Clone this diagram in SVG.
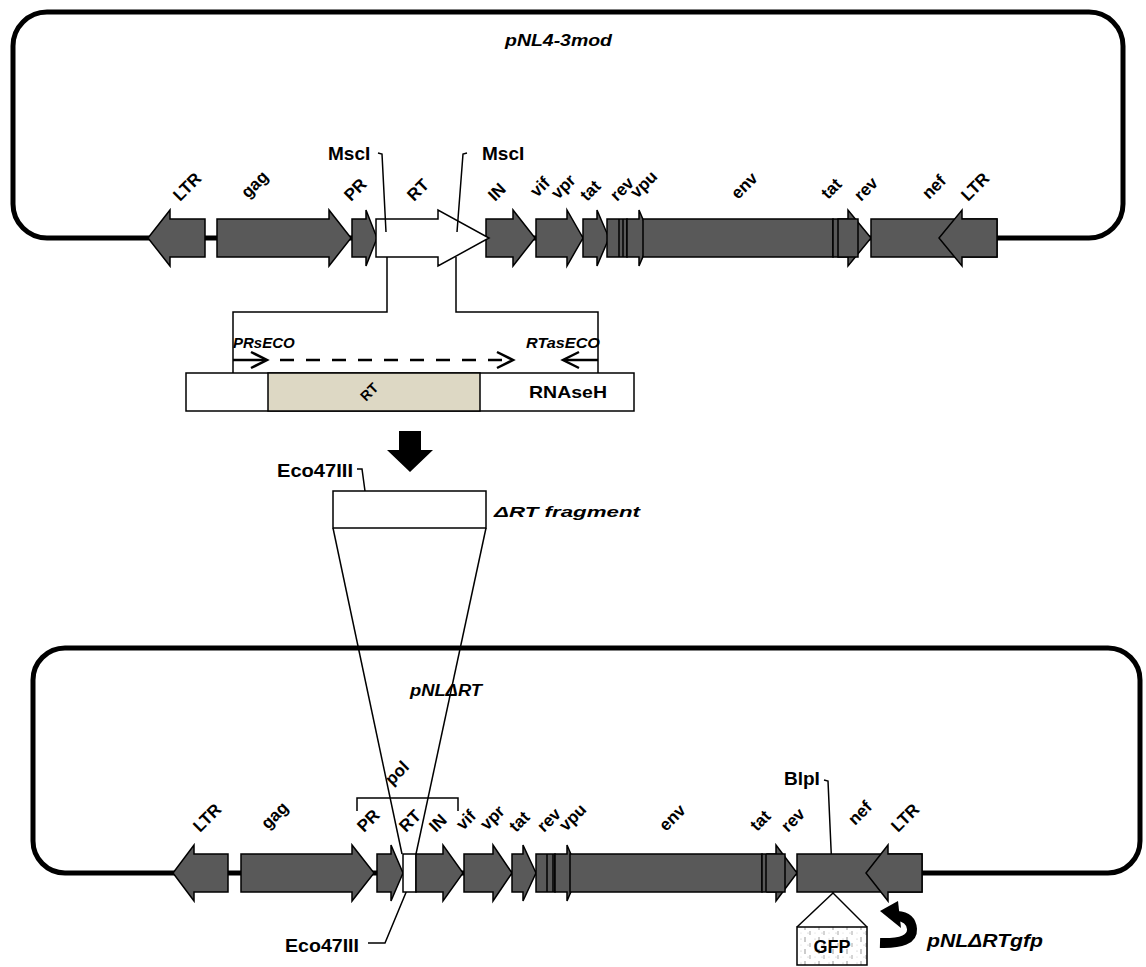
<svg xmlns="http://www.w3.org/2000/svg" width="1146" height="967" viewBox="0 0 1146 967">
<defs>
<style>
.bb{fill:none;stroke:#000;stroke-width:5}
.g{fill:#595959;stroke:#000;stroke-width:1.5;stroke-linejoin:miter}
.w{fill:#fff;stroke:#000;stroke-width:1.5}
.ln{fill:none;stroke:#000;stroke-width:1.5}
.pr{fill:none;stroke:#000;stroke-width:2.5}
.gl{font-family:"Liberation Sans",Arial,sans-serif;font-weight:bold;font-size:17px;fill:#000}
.lb{font-family:"Liberation Sans",Arial,sans-serif;font-weight:bold;font-size:19px;fill:#000}
.it{font-family:"Liberation Sans",Arial,sans-serif;font-weight:bold;font-style:italic;fill:#000}
</style>
<pattern id="gfpPat" width="14" height="12" patternUnits="userSpaceOnUse">
<rect width="14" height="12" fill="#fff"/>
<circle cx="3" cy="3" r="0.6" fill="#bbb"/>
<circle cx="10" cy="9" r="0.6" fill="#bbb"/>
<circle cx="3" cy="9" r="0.5" fill="#ccc"/>
<line x1="7" y1="1" x2="7" y2="6" stroke="#999" stroke-width="1"/>
<line x1="12" y1="7" x2="12" y2="11" stroke="#aaa" stroke-width="1"/>
</pattern>
</defs>

<g id="plasmid-top">
<rect class="bb" x="13" y="12" width="1110" height="226" rx="34"/>
<text class="it" x="505" y="46" font-size="16" textLength="107" lengthAdjust="spacingAndGlyphs">pNL4-3mod</text>
</g>

<g id="genes-top">
<polygon class="g" points="205,219 170,219 170,210 148,238 170,266 170,257 205,257"/>
<polygon class="g" points="217,219 329,219 329,210 351,238 329,266 329,257 217,257"/>
<polygon class="g" points="352,219 366,219 366,210 377,238 366,266 366,257 352,257"/>
<polygon class="g" points="486,219 513,219 513,210 535,238 513,266 513,257 486,257"/>
<polygon class="w" points="376,219 438,219 438,210 489,238 438,266 438,257 376,257"/>
<polygon class="g" points="536,219 567,219 567,210 583,238 567,266 567,257 536,257"/>
<polygon class="g" points="583,219 597,219 597,210 609,238 597,266 597,257 583,257"/>
<rect class="g" x="607" y="219" width="20" height="38"/>
<line class="ln" x1="619" y1="219" x2="619" y2="257"/>
<line class="ln" x1="623" y1="219" x2="623" y2="257"/>
<polygon class="g" points="627,219 639,219 639,210 651,238 639,266 639,257 627,257"/>
<rect class="g" x="643" y="219" width="190" height="38"/>
<polygon class="g" points="838,219 848,219 848,210 871,238 848,266 848,257 838,257"/>
<rect class="g" x="833" y="219" width="25" height="38"/>
<line class="ln" x1="838" y1="219" x2="838" y2="257"/>
<rect class="g" x="871" y="219" width="126" height="38"/>
<polygon class="g" points="997,219 962,219 962,210 939,238 962,266 962,257 997,257"/>
</g>

<g id="labels-top">
<text class="gl" transform="translate(180,202) rotate(-45)">LTR</text>
<text class="gl" transform="translate(248,199) rotate(-45)">gag</text>
<text class="gl" transform="translate(351,202) rotate(-45)">PR</text>
<text class="gl" transform="translate(414,202) rotate(-45)">RT</text>
<text class="gl" transform="translate(495,202) rotate(-45)">IN</text>
<text class="gl" transform="translate(537,198) rotate(-45)">vif</text>
<text class="gl" transform="translate(558,200) rotate(-45)">vpr</text>
<text class="gl" transform="translate(587,202) rotate(-45)">tat</text>
<text class="gl" transform="translate(617,202) rotate(-45)">rev</text>
<text class="gl" transform="translate(637,199) rotate(-45)">vpu</text>
<text class="gl" transform="translate(738,200) rotate(-45)">env</text>
<text class="gl" transform="translate(828,200) rotate(-45)">tat</text>
<text class="gl" transform="translate(861,202) rotate(-45)">rev</text>
<text class="gl" transform="translate(929,200) rotate(-45)">nef</text>
<text class="gl" transform="translate(968,202) rotate(-45)">LTR</text>
<text class="lb" x="328" y="160">MscI</text>
<text class="lb" x="482" y="160">MscI</text>
</g>

<g id="connectors">
<polyline class="ln" points="378,153 382,154 386,232"/>
<polyline class="ln" points="387,257 387,312 233,312 233,373"/>
<polyline class="ln" points="467,153 463,154 457,232"/>
<polyline class="ln" points="456,257 456,312 598,312 598,373"/>
<polyline class="ln" points="357,469 362,469 370,528"/>
<line class="ln" x1="333" y1="528" x2="402" y2="854"/>
<line class="ln" x1="486" y1="528" x2="416" y2="854"/>
<polyline class="ln" points="368,943 385,943 412,878"/>
<polyline class="ln" points="824,780 828,781 833,893"/>
<line class="ln" x1="833" y1="893" x2="797" y2="927"/>
<line class="ln" x1="833" y1="893" x2="867" y2="927"/>
<polyline class="ln" points="357,811 357,798 458,798 458,811"/>
</g>

<g id="pcr-fragment">
<rect class="w" x="186" y="373" width="448" height="38"/>
<rect x="268" y="373" width="212" height="38" fill="#ddd8c4" stroke="#000" stroke-width="1.5"/>
<text class="gl" style="font-size:14px" transform="translate(366,402) rotate(-45)">RT</text>
<text class="lb" style="font-size:17px" x="529" y="398" textLength="78" lengthAdjust="spacingAndGlyphs">RNAseH</text>
<text class="it" font-size="15" x="233" y="348">PRsECO</text>
<text class="it" font-size="15" x="526" y="348" textLength="74" lengthAdjust="spacingAndGlyphs">RTasECO</text>
<line class="pr" x1="233" y1="360" x2="266" y2="360"/>
<polyline class="pr" points="251,352 267,360 251,368"/>
<line class="pr" x1="280" y1="360" x2="511" y2="360" stroke-dasharray="14,12"/>
<polyline class="pr" points="497,352 513,360 497,368"/>
<line class="pr" x1="598" y1="360" x2="565" y2="360"/>
<polyline class="pr" points="579,352 563,360 579,368"/>
</g>

<g id="big-arrow">
<polygon points="399,431 421,431 421,450 433,450 410,472 387,450 399,450" fill="#000"/>
</g>

<g id="delta-rt-fragment">
<rect class="w" x="333" y="491" width="153" height="37"/>
<text class="lb" x="277" y="477" textLength="76" lengthAdjust="spacingAndGlyphs">Eco47III</text>
<text class="it" font-size="15" x="494" y="517" textLength="146" lengthAdjust="spacingAndGlyphs">ΔRT fragment</text>
</g>

<g id="plasmid-bottom">
<rect class="bb" x="33" y="648" width="1107" height="225" rx="32"/>
<text class="it" x="410" y="696" font-size="16" textLength="72" lengthAdjust="spacingAndGlyphs">pNLΔRT</text>
</g>

<g id="genes-bottom">
<polygon class="g" points="228,854 194,854 194,845 173,873 194,901 194,892 228,892"/>
<polygon class="g" points="241,854 352,854 352,845 374,873 352,901 352,892 241,892"/>
<polygon class="g" points="377,854 391,854 391,845 403,873 391,901 391,892 377,892"/>
<rect class="w" x="403" y="854" width="13" height="38"/>
<polygon class="g" points="416,854 443,854 443,845 463,873 443,901 443,892 416,892"/>
<polygon class="g" points="464,854 493,854 493,845 512,873 493,901 493,892 464,892"/>
<polygon class="g" points="512,854 523,854 523,845 536,873 523,901 523,892 512,892"/>
<rect class="g" x="536" y="854" width="19" height="38"/>
<line class="ln" x1="547" y1="854" x2="547" y2="892"/>
<line class="ln" x1="553" y1="854" x2="553" y2="892"/>
<polygon class="g" points="555,854 567,854 567,845 579,873 567,901 567,892 555,892"/>
<rect class="g" x="570" y="854" width="192" height="38"/>
<polygon class="g" points="767,854 776,854 776,845 797,873 776,901 776,892 767,892"/>
<rect class="g" x="762" y="854" width="23" height="38"/>
<line class="ln" x1="766" y1="854" x2="766" y2="892"/>
<rect class="g" x="797" y="854" width="125" height="38"/>
<polygon class="g" points="922,854 888,854 888,845 866,873 888,901 888,892 922,892"/>
</g>

<g id="labels-bottom">
<text class="gl" transform="translate(200,833) rotate(-45)">LTR</text>
<text class="gl" transform="translate(268,830) rotate(-45)">gag</text>
<text class="gl" transform="translate(364,833) rotate(-45)">PR</text>
<text class="gl" transform="translate(406,833) rotate(-45)">RT</text>
<text class="gl" transform="translate(436,833) rotate(-45)">IN</text>
<text class="gl" transform="translate(463,831) rotate(-45)">vif</text>
<text class="gl" transform="translate(487,831) rotate(-45)">vpr</text>
<text class="gl" transform="translate(516,833) rotate(-45)">tat</text>
<text class="gl" transform="translate(544,833) rotate(-45)">rev</text>
<text class="gl" transform="translate(566,832) rotate(-45)">vpu</text>
<text class="gl" transform="translate(666,832) rotate(-45)">env</text>
<text class="gl" transform="translate(757,832) rotate(-45)">tat</text>
<text class="gl" transform="translate(788,833) rotate(-45)">rev</text>
<text class="gl" transform="translate(855,826) rotate(-45)">nef</text>
<text class="gl" transform="translate(898,833) rotate(-45)">LTR</text>
<text class="gl" transform="translate(392,786) rotate(-45)">pol</text>
<text class="lb" x="285" y="952" textLength="74" lengthAdjust="spacingAndGlyphs">Eco47III</text>
<text class="lb" x="784" y="785">BlpI</text>
</g>

<g id="gfp-insert">
<rect x="797" y="927" width="70" height="38" fill="url(#gfpPat)" stroke="#000" stroke-width="1.5"/>
<text class="lb" style="font-size:18px" x="832" y="953" text-anchor="middle">GFP</text>
</g>

<g id="gfp-arrow">
<path d="M 880 943 Q 913 944 912 929 Q 911 917 897 916" fill="none" stroke="#000" stroke-width="10"/>
<polygon points="880,911 898,901 901,928" fill="#000"/>
<text class="it" font-size="18" x="927" y="947" textLength="116" lengthAdjust="spacingAndGlyphs">pNLΔRTgfp</text>
</g>
</svg>
